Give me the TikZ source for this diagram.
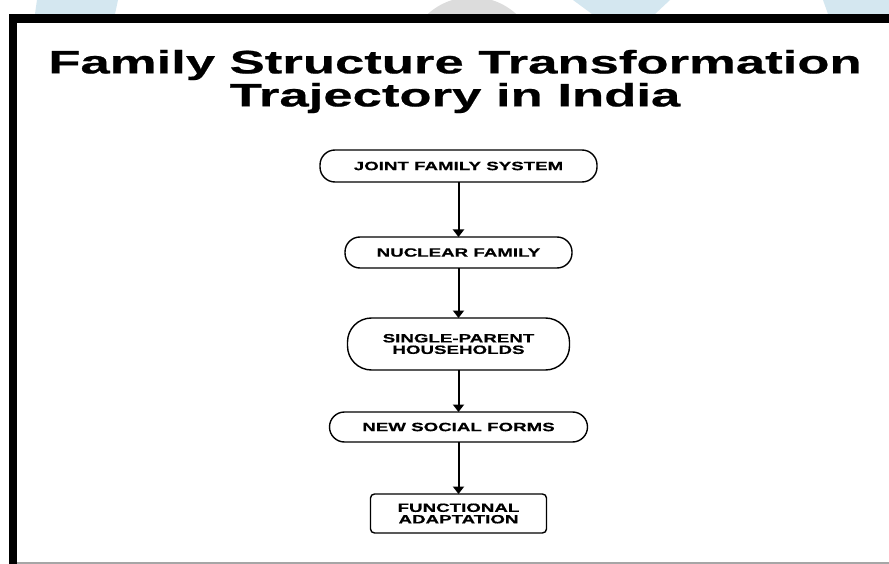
\documentclass[tikz,border=0pt]{standalone}
\usepackage{fontspec}
\setmainfont{Liberation Sans}
\newfontfamily\headfont[FakeStretch=1.62,FakeBold=0.6]{Liberation Sans}
\newfontfamily\stagefont[FakeStretch=1.56,FakeBold=0.6]{Liberation Sans}
\usetikzlibrary{arrows.meta}
\definecolor{wmblue}{HTML}{D4E7F0}
\definecolor{wmgray}{HTML}{DCDCDC}
\tikzset{
    every node/.style = {
        inner sep = 0pt,
        outer sep = 0pt
    },
    stage/.style = {
        draw,
        line width = 1.4pt,
        rounded corners = 15pt,
        align = center,
        font = \stagefont\bfseries\fontsize{12}{11.5}\selectfont
    },
    outcome/.style = {
        stage,
        rounded corners = 4pt
    },
    headline/.style = {
        align = center,
        font = \headfont\bfseries\fontsize{32.5}{33}\selectfont
    },
    flow/.style = {
        -{Triangle[length=7.5pt,width=11pt]},
        line width = 2pt
    }
}

\begin{document}
\begin{tikzpicture}[x=1pt,y=-1pt]
    \useasboundingbox (0,0) rectangle (889,564);
    \fill[white] (0,0) rectangle (889,564);
    % watermark behind the panel
    \fill[wmblue] (37,0) -- (118,0) -- (115,14) -- (35,14) -- cycle;
    \fill[wmgray] (472,63) circle[radius=66];
    \fill[wmblue] (573,0) -- (670,0) -- (655,14) -- (592,14) -- cycle;
    \fill[wmblue] (823,0) -- (889,0) -- (889,14) -- (828,14) -- cycle;
    % panel
    \fill[black] (9,14) rectangle (889,564);
    \fill[white] (17,23) rectangle (889,562);
    \fill[gray!70] (17,562) rectangle (889,564);
    \node (title) at (455,81.5) [headline]{Family Structure Transformation\\Trajectory in India};
    \node (joint) at (458.5,166) [
        stage,
        minimum width=277pt,
        minimum height=32pt
    ]{JOINT FAMILY SYSTEM};
    \node (nuclear) at (458.5,252.5) [
        stage,
        minimum width=227pt,
        minimum height=31pt
    ]{NUCLEAR FAMILY};
    \node (single) at (458.5,344) [
        stage,
        rounded corners=24pt,
        minimum width=222pt,
        minimum height=52pt
    ]{SINGLE-PARENT\\HOUSEHOLDS};
    \node (social) at (458.5,427) [
        stage,
        minimum width=258pt,
        minimum height=30pt
    ]{NEW SOCIAL FORMS};
    \node (adapt) at (458.5,513.5) [
        outcome,
        minimum width=176pt,
        minimum height=39pt
    ]{FUNCTIONAL\\ADAPTATION};
    \draw[flow] (joint.south) -- (nuclear.north);
    \draw[flow] (nuclear.south) -- (single.north);
    \draw[flow] (single.south) -- (social.north);
    \draw[flow] (social.south) -- (adapt.north);
\end{tikzpicture}
\end{document}
